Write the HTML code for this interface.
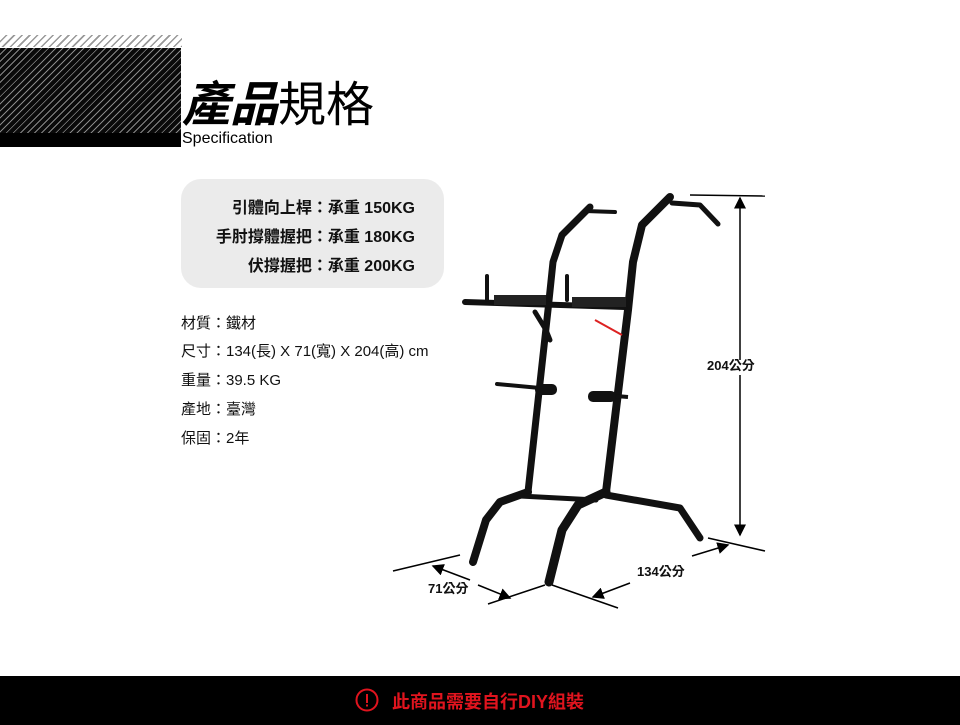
<!DOCTYPE html>
<html><head><meta charset="utf-8"><style>
body{margin:0;width:960px;height:725px;background:#fff;position:relative;overflow:hidden;font-family:"Liberation Sans","Noto Sans CJK TC",sans-serif;}
.a{position:absolute;}
.hatch1{left:0;top:35px;width:182px;height:12px;background:repeating-linear-gradient(135deg,#fff 0 4px,#999 4px 5.5px);}
.hatch2{left:0;top:48px;width:181px;height:86px;background:repeating-linear-gradient(135deg,#0a0a0a 0 4px,#888 4px 5px);}
.blk{left:0;top:133px;width:181px;height:14px;background:#000;}
.title{left:182px;top:70px;font-size:48px;line-height:60px;color:#000;font-family:"Noto Sans CJK TC",sans-serif;}
.spec{left:182px;top:130px;font-size:16px;color:#000;}
.box{left:181px;top:179px;width:263px;height:109px;background:#ebebeb;border-radius:20px;}
.box div{position:absolute;right:29px;font-size:16px;font-weight:bold;white-space:nowrap;color:#111;}
.info{left:181px;font-size:15px;color:#111;white-space:nowrap;}
.foot{left:0;top:676px;width:960px;height:49px;background:#000;}
</style></head><body>
<div class="a hatch1"></div><div class="a hatch2"></div><div class="a blk"></div>
<div class="a title"><b style="font-style:italic">產品</b>規格</div>
<div class="a spec">Specification</div>
<div class="a box">
<div style="top:15px">引體向上桿：承重 150KG</div>
<div style="top:44px">手肘撐體握把：承重 180KG</div>
<div style="top:73px">伏撐握把：承重 200KG</div>
</div>
<div class="a info" style="top:312px">材質：鐵材</div>
<div class="a info" style="top:340px">尺寸：134(長) X 71(寬) X 204(高) cm</div>
<div class="a info" style="top:369px">重量：39.5 KG</div>
<div class="a info" style="top:398px">產地：臺灣</div>
<div class="a info" style="top:427px">保固：2年</div>
<svg class="a" style="left:0;top:0" width="960" height="725">
<defs><marker id="ar" markerWidth="8" markerHeight="8" refX="7" refY="4" orient="auto"><path d="M0,0L8,4L0,8z" fill="#000"/></marker></defs>
<g fill="none" stroke="#111" stroke-linecap="round" stroke-linejoin="round">
<path d="M590,207 L562,235 L553,262 L548,310 L528,492" stroke-width="7"/>
<path d="M528,492 L500,502 L486,520 L473,562" stroke-width="8"/>
<path d="M670,197 L642,225 L633,262 L628,310 L606,492" stroke-width="8"/>
<path d="M606,492 L578,505 L562,530 L549,582" stroke-width="9"/>
<path d="M606,495 L680,508 L700,538" stroke-width="7"/>
<path d="M520,496 L596,500" stroke-width="5"/>
<path d="M585,211 L615,212" stroke-width="4"/>
<path d="M672,203 L700,205 L718,224" stroke-width="5"/>
<path d="M465,302 L625,307" stroke-width="6"/>
<path d="M487,276 L487,300 M567,276 L567,300" stroke-width="4"/>
<path d="M497,384 L540,388" stroke-width="4"/>
<path d="M535,312 L546,330 L550,340" stroke-width="5"/>
</g>
<rect x="494" y="295" width="52" height="10" fill="#222"/>
<rect x="572" y="297" width="54" height="10" fill="#222"/>
<rect x="535" y="384" width="22" height="11" rx="5" fill="#111"/>
<rect x="588" y="391" width="28" height="11" rx="5" fill="#111"/>
<path d="M616,396 L628,397" stroke="#111" stroke-width="4"/>
<path d="M595,320 L622,335" stroke="#d22" stroke-width="2"/>
<g stroke="#000" stroke-width="1.5" fill="none">
<path d="M690,195 L765,196"/><path d="M708,538 L765,551"/>
<path d="M740,360 L740,198" marker-end="url(#ar)"/><path d="M740,375 L740,535" marker-end="url(#ar)"/>
<path d="M393,571 L460,555"/><path d="M488,604 L545,585"/>
<path d="M552,585 L618,608"/>
<path d="M470,580 L433,566" marker-end="url(#ar)"/><path d="M478,585 L510,598" marker-end="url(#ar)"/>
<path d="M630,583 L593,597" marker-end="url(#ar)"/><path d="M692,556 L728,545" marker-end="url(#ar)"/>
</g>
<g font-family="Liberation Sans,Noto Sans CJK TC,sans-serif" font-weight="bold" font-size="13" fill="#111">
<text x="707" y="370">204公分</text>
<text x="637" y="576">134公分</text>
<text x="428" y="593">71公分</text>
</g>
</svg>
<div class="a foot"></div>
<svg class="a" style="left:355px;top:688px" width="24" height="24"><circle cx="12" cy="12" r="10.5" stroke="#e0141e" stroke-width="2" fill="none"/><rect x="11" y="6" width="2" height="9" fill="#e0141e"/><rect x="11" y="16.5" width="2" height="2" fill="#e0141e"/></svg>
<div class="a" style="left:392px;top:688px;font-size:18px;font-weight:bold;color:#e0141e;white-space:nowrap">此商品需要自行DIY組裝</div>
</body></html>
